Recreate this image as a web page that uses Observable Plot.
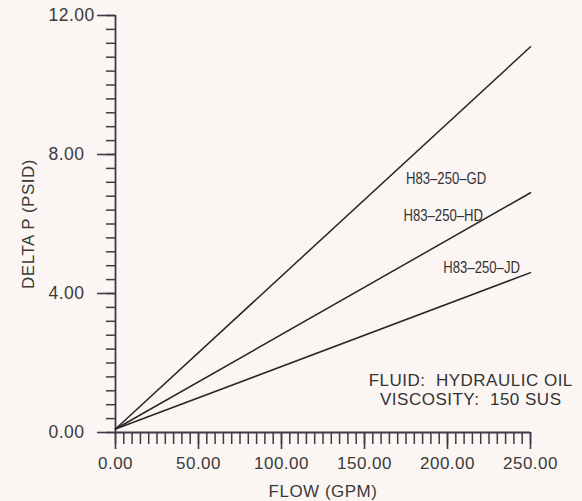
<!DOCTYPE html>
<html>
<head>
<meta charset="utf-8">
<script src="https://cdn.jsdelivr.net/npm/d3@7"></script>
<script src="https://cdn.jsdelivr.net/npm/@observablehq/plot@0.6"></script>
<style>
  html, body { margin: 0; padding: 0; background: #fbf6f3; }
  svg text { letter-spacing: 0.5px; white-space: pre; }
</style>
</head>
<body>
<div id="chart"></div>
<script>
// Data
const models = ["H83–250–GD", "H83–250–HD", "H83–250–JD"];
const flowPoints = [0, 250];
const dpAtZero = [0.1, 0.1, 0.1];
const dpAt250 = [11.1, 6.9, 4.6];
const labelFlow = [175, 173.5, 197.5];
const labelDp = [7.31, 6.24, 4.75];
const xMajorTicks = [0, 50, 100, 150, 200, 250];
const xMinorTicks = d3.range(0, 251, 5);
const yMajorTicks = [0, 4, 8, 12];
const yMinorTicks = d3.range(0, 12.01, 0.4).map(v => +v.toFixed(1));
const xTitle = "FLOW (GPM)";
const yTitle = "DELTA P (PSID)";
const noteLines = ["FLUID:  HYDRAULIC OIL", "VISCOSITY:  150 SUS"];
const noteFlow = 214;
const noteDp = [1.5, 0.95];

const lineRows = [];
models.forEach((m, i) => {
  lineRows.push({model: m, flow: flowPoints[0], dp: dpAtZero[i]});
  lineRows.push({model: m, flow: flowPoints[1], dp: dpAt250[i]});
});
const labelRows = models.map((m, i) => ({model: m, flow: labelFlow[i], dp: labelDp[i]}));
const noteRows = noteLines.map((t, i) => ({t, flow: noteFlow, dp: noteDp[i]}));

const axisColor = "#3b3b48";
const textColor = "#3a3a3a";
const font = "'Liberation Sans', Arial, Helvetica, sans-serif";

const chart = Plot.plot({
  width: 582,
  height: 501,
  marginLeft: 115,
  marginRight: 52,
  marginTop: 15,
  marginBottom: 69,
  style: {background: "#fbf6f3", fontFamily: font, fontSize: "17px", color: textColor},
  x: {domain: [0, 250], label: null},
  y: {domain: [0, 12], label: null},
  marks: [
    Plot.axisX({ticks: xMinorTicks, tickSize: 12, tickFormat: () => "", stroke: axisColor, strokeWidth: 1.5, label: null}),
    Plot.axisX({ticks: xMajorTicks, tickSize: 17, tickPadding: 7, tickFormat: d => d.toFixed(2), stroke: axisColor, strokeWidth: 1.6, fill: textColor, fontSize: 17, fontFamily: font, label: null}),
    Plot.axisY({ticks: yMinorTicks, tickSize: 9, tickFormat: () => "", stroke: axisColor, strokeWidth: 1.5, label: null}),
    Plot.axisY({ticks: yMajorTicks, tickSize: 18, tickFormat: () => "", stroke: axisColor, strokeWidth: 1.6, label: null}),
    Plot.text(yMajorTicks, {y: d => d, frameAnchor: "left", dx: -67, textAnchor: "start", lineAnchor: "middle", text: d => d.toFixed(2), fontSize: 17.5, fontFamily: font, fill: textColor}),
    Plot.ruleX([0], {y1: 0, y2: 12, stroke: axisColor, strokeWidth: 1.8}),
    Plot.ruleY([0], {x1: 0, x2: 250, stroke: axisColor, strokeWidth: 1.8}),
    Plot.line(lineRows, {x: "flow", y: "dp", z: "model", stroke: "#262626", strokeWidth: 1.5}),
    Plot.text(labelRows, {x: "flow", y: "dp", text: "model", textAnchor: "start", fontSize: 16, fontFamily: font, fill: "#333"}),
    Plot.text(noteRows, {x: "flow", y: "dp", text: "t", textAnchor: "middle", fontSize: 17, fontFamily: font, fill: "#333"}),
    Plot.text([xTitle], {frameAnchor: "bottom", dy: 59, textAnchor: "middle", lineAnchor: "middle", fontSize: 17, fontFamily: font, fill: textColor}),
    Plot.text([yTitle], {frameAnchor: "left", dx: -87, rotate: -90, textAnchor: "middle", lineAnchor: "middle", fontSize: 17, fontFamily: font, fill: textColor})
  ]
});
// horizontally condense the model labels (the reference uses a condensed face)
chart.querySelectorAll("text").forEach(t => {
  if (!models.includes(t.textContent)) return;
  const tr = t.getAttribute("transform") || "";
  t.setAttribute("transform", `${tr} scale(0.82,1)`.trim());
  t.style.letterSpacing = "0px";
});
document.getElementById("chart").appendChild(chart);
</script>
</body>
</html>
